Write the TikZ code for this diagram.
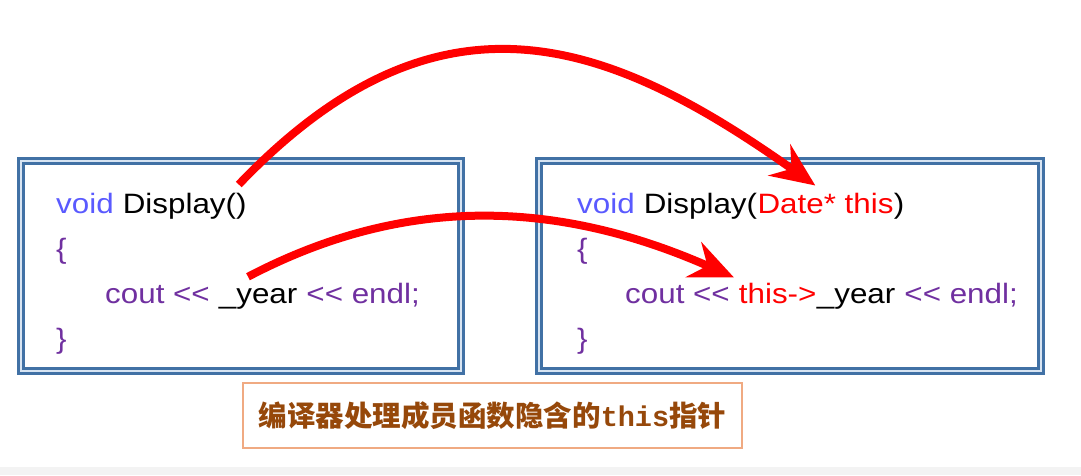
\documentclass[tikz,border=0pt]{standalone}
\usepackage{fontspec}
\usetikzlibrary{positioning,arrows.meta}

\newfontfamily\codefont[FakeStretch=1.12]{Liberation Sans}
\newfontfamily\cjkfont{Noto Sans CJK SC}
\newfontfamily\notemono{Liberation Mono}

\definecolor{kwblue}{RGB}{90,90,255}
\definecolor{kwpurple}{RGB}{112,48,160}
\definecolor{thisred}{RGB}{255,0,0}
\definecolor{framebl}{RGB}{65,113,165}
\definecolor{framefill}{RGB}{215,228,242}
\definecolor{notebrown}{RGB}{150,72,10}
\definecolor{noteline}{RGB}{240,170,130}
\definecolor{stripgray}{RGB}{243,243,243}

\newcommand\ltlt{<\kern0pt<}

\tikzset{
  code/.style={font=\codefont\fontsize{28}{28}\selectfont, inner sep=0pt},
  frame/.style={draw=framebl, line width=2.5pt, double=framefill, double distance=2.5pt},
  callarrow/.style={draw=thisred, line width=8pt, -{Stealth[length=44pt,width=38pt,inset=15pt]}},
  notebox/.style={draw=noteline, line width=1.5pt, minimum width=499pt, minimum height=65pt,
    inner sep=0pt, text=notebrown, font=\cjkfont\bfseries\fontsize{28.5}{30}\selectfont}
}

\begin{document}
\begin{tikzpicture}[x=1pt,y=-1pt]

      \useasboundingbox (0,0) rectangle (1081,475);
      \fill[white] (0,0) rectangle (1081,475);
      \fill[stripgray] (0,467) rectangle (1081,475);

      \draw[frame] (21,161) rectangle (461,371);
      \draw[frame] (539,161) rectangle (1041,371);

      \begin{scope}[every node/.style={code, anchor=base west}]
        % before
        \node[text=kwblue] (lvoid) at (56,213) {void};
        \node[base right=0pt of lvoid] (ldisp) {\ Display()};
        \node[text=kwpurple] (lopen) at (56,258) {\{};
        \node[text=kwpurple] (lcout) at (105,303) {cout \ltlt};
        \node[base right=0pt of lcout] (lyear) {\ \_year};
        \node[base right=0pt of lyear, text=kwpurple] (lendl) {\ \ltlt\ endl;};
        \node[text=kwpurple] (lclose) at (56,348) {\}};

        % after
        \node[text=kwblue] (rvoid) at (577,213) {void};
        \node[base right=0pt of rvoid] (rdisp) {\ Display(};
        \node[base right=0pt of rdisp, text=thisred] (rdate) {Date* this};
        \node[base right=0pt of rdate] (rparen) {)};
        \node[text=kwpurple] (ropen) at (577,258) {\{};
        \node[text=kwpurple] (rcout) at (625,303) {cout \ltlt};
        \node[base right=0pt of rcout, text=thisred] (rthis) {\ this->};
        \node[base right=0pt of rthis] (ryear) {\_year};
        \node[base right=0pt of ryear, text=kwpurple] (rendl) {\ \ltlt\ endl;};
        \node[text=kwpurple] (rclose) at (577,348) {\}};
      \end{scope}

      \node[notebox] (note) at (492.5,415.5) {编译器处理成员函数隐含的{\notemono\bfseries this}指针};

      \coordinate (s1) at ([shift={(-8,-8)}]ldisp.north east);
      \coordinate (t1) at ([shift={(58,-7)}]rdate.north west);
      \coordinate (s2) at ([shift={(38,-11)}]lyear.north west);
      \coordinate (t2) at ([shift={(4,-5)}]rthis.north west);

      \draw[callarrow] (s1) .. controls (440,-26) and (610,40) .. (t1);
      \draw[callarrow] (s2) .. controls (400,197) and (552,197) .. (t2);

\end{tikzpicture}
\end{document}
